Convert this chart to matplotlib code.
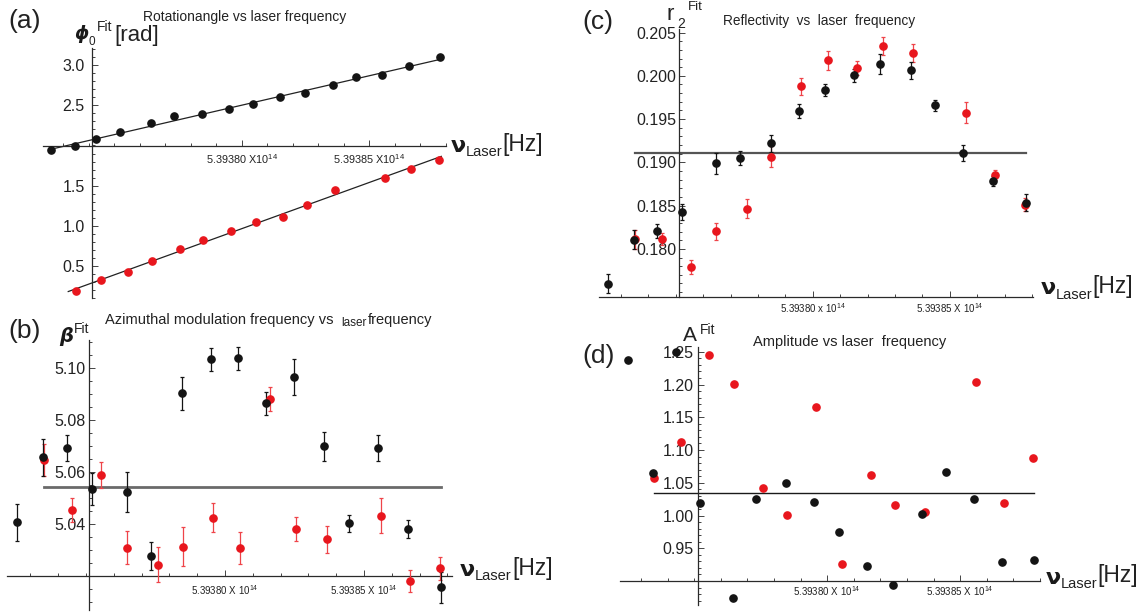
import matplotlib
matplotlib.use('Agg')
import matplotlib.pyplot as plt
from matplotlib.ticker import FixedLocator, MultipleLocator, FixedFormatter, FormatStrFormatter
import numpy as np

plt.rcParams['font.family'] = ['Liberation Sans', 'DejaVu Sans']
plt.rcParams['mathtext.fontset'] = 'custom'
plt.rcParams['mathtext.rm'] = 'Liberation Sans'
plt.rcParams['mathtext.it'] = 'Liberation Sans:italic'
plt.rcParams['mathtext.bf'] = 'Liberation Sans:bold'

W, H = 1148, 614
NU0 = 5.39380e14      # first labelled frequency tick [Hz]

# laser detuning of each measurement from NU0 [GHz]
dnu_black = [-7.49, -6.54, -5.70, -4.77, -3.54, -2.67, -1.54, -0.49,
             0.46, 1.49, 2.47, 3.58, 4.47, 5.50, 6.58, 7.77]
dnu_red = [-6.50, -5.51, -4.45, -3.52, -2.41, -1.51, -0.43, 0.55,
           1.63, 2.55, 3.67, 5.61, 6.64, 7.73]

# (a) rotation angle phi_0 [rad]
phi_black = [1.94, 1.99, 2.075, 2.17, 2.28, 2.37, 2.39, 2.45,
             2.52, 2.60, 2.65, 2.75, 2.85, 2.88, 2.99, 3.10]
phi_red = [0.18, 0.32, 0.42, 0.56, 0.71, 0.82, 0.94, 1.05,
           1.11, 1.26, 1.44, 1.60, 1.71, 1.82]

# (b) azimuthal modulation frequency beta
beta_black = [5.0406, 5.0656, 5.0691, 5.0535, 5.0524, 5.0278, 5.0903, 5.1033,
              5.1037, 5.0864, 5.0967, 5.0699, 5.0403, 5.0694, 5.0381, 5.0156]
beta_black_err = [0.0070, 0.0070, 0.0050, 0.0060, 0.0077, 0.0053, 0.0064, 0.0043,
                  0.0044, 0.0044, 0.0069, 0.0056, 0.0033, 0.0050, 0.0035, 0.0059]
beta_red = [5.0647, 5.0454, 5.0588, 5.0309, 5.0244, 5.0313, 5.0424, 5.0308,
            5.0881, 5.0382, 5.0341, 5.0432, 5.0182, 5.0229]
beta_red_err = [0.0062, 0.0047, 0.0050, 0.0063, 0.0066, 0.0075, 0.0056, 0.0063,
                0.0046, 0.0046, 0.0053, 0.0067, 0.0042, 0.0045]
beta_level = 5.0543

# (c) reflectivity r_2
r2_black = [0.17597, 0.18105, 0.18205, 0.18426, 0.18988, 0.19047, 0.19221, 0.19597,
            0.19833, 0.20004, 0.20136, 0.20062, 0.19659, 0.19105, 0.18783, 0.18535]
r2_black_err = [0.0011, 0.0011, 0.0008, 0.0009, 0.0012, 0.0008, 0.0010, 0.0008,
                0.0007, 0.0007, 0.0012, 0.0010, 0.0006, 0.0009, 0.0006, 0.0010]
r2_red = [0.18112, 0.18112, 0.17795, 0.18202, 0.18461, 0.19066, 0.19880, 0.20182,
          0.20090, 0.20345, 0.20264, 0.19574, 0.18853, 0.18512]
r2_red_err = [0.0011, 0.0007, 0.0008, 0.0010, 0.0011, 0.0012, 0.0010, 0.0011,
              0.0008, 0.0010, 0.0010, 0.0012, 0.0006, 0.0007]
r2_level = 0.1911

# (d) amplitude A
amp_black = [1.2377, 1.0654, 1.2490, 1.0192, 0.8746, 1.0259, 1.0490, 1.0203,
             0.9741, 0.9223, 0.8936, 1.0028, 1.0664, 1.0249, 0.9295, 0.9321]
amp_red = [1.0577, 1.1121, 1.2454, 1.2013, 1.0423, 1.0008, 1.1664, 0.9259,
           1.0623, 1.0167, 1.0054, 1.2038, 1.0197, 1.0879]
amp_level = 1.0343

BLACK = '#141414'
RED = '#e8161d'
RED_BAR = '#ef4449'

fig = plt.figure(figsize=(W / 100, H / 100), dpi=100)


def hz(dnu):
    return NU0 + np.asarray(dnu) * 1e9


def put(x, y, s, size, **kw):
    # x, y in pixels from the top left corner
    fig.text(x / W, 1 - y / H, s, fontsize=size, ha='left', va='center', **kw)


def panel(xc, yc, org, sx, sy, xlim, ylim, yticks, yminor, yfmt, xlabels,
          ypad, xpad, xsize=7):
    # org = pixel position where the two axes cross, sx px per GHz, sy px per y unit
    x0 = org[0] + (xlim[0] - xc) * sx
    x1 = org[0] + (xlim[1] - xc) * sx
    y0 = org[1] + (yc - ylim[0]) * sy
    y1 = org[1] - (ylim[1] - yc) * sy
    ax = fig.add_axes([x0 / W, 1 - y0 / H, (x1 - x0) / W, (y0 - y1) / H])
    ax.set_xlim(hz(xlim[0]), hz(xlim[1]))
    ax.set_ylim(*ylim)
    ax.patch.set_visible(False)
    ax.spines['top'].set_visible(False)
    ax.spines['right'].set_visible(False)
    ax.spines['left'].set_position(('data', hz(xc)))
    ax.spines['bottom'].set_position(('data', yc))
    for s in ('left', 'bottom'):
        ax.spines[s].set_color('#2a2a2a')
        ax.spines[s].set_linewidth(0.9)

    ax.xaxis.set_major_locator(FixedLocator([NU0, NU0 + 5e9]))
    ax.xaxis.set_minor_locator(MultipleLocator(1e9))
    ax.xaxis.set_major_formatter(FixedFormatter(xlabels))
    ax.yaxis.set_major_locator(FixedLocator(yticks))
    ax.yaxis.set_minor_locator(MultipleLocator(yminor))
    ax.yaxis.set_major_formatter(FormatStrFormatter(yfmt))

    ax.tick_params(which='both', direction='in', color='#444444', width=0.7)
    ax.tick_params(which='major', length=4)
    ax.tick_params(which='minor', length=2.5)
    ax.tick_params(axis='x', which='major', labelsize=xsize, pad=xpad, labelcolor='#222222')
    ax.tick_params(axis='y', which='major', labelsize=11.5, pad=ypad, labelcolor='#222222')
    return ax


def points(ax, dnu, y, err, color, ecolor):
    ax.errorbar(hz(dnu), y, yerr=err, fmt='o', ms=5.2, color=color, ecolor=ecolor,
                elinewidth=0.9, capsize=1.3, capthick=0.9, zorder=3)


def unclip(ax):
    for a in ax.lines + ax.collections:
        a.set_clip_on(False)


# ---- (a) rotation angle ----
ax_a = panel(-5.88, 2.0, (91.7, 145.5), 25.5, 80.2, (-7.8, 8.0), (0.1, 3.21),
             [0.5, 1.0, 1.5, 2.5, 3.0], 0.1, '%.1f',
             [r'5.39380 X10$^{14}$', r'5.39385 X10$^{14}$'], ypad=5, xpad=5, xsize=7.8)
for dnu, phi, c, ext in ((dnu_black, phi_black, BLACK, (0.0, 0.1)),
                         (dnu_red, phi_red, RED, (0.3, 0.1))):
    k, b = np.polyfit(dnu, phi, 1)
    xs = np.array([dnu[0] - ext[0], dnu[-1] + ext[1]])
    ax_a.plot(hz(xs), k * xs + b, color='#222222', lw=0.9, zorder=2)
    ax_a.plot(hz(dnu), phi, 'o', ms=5.2, color=c, zorder=3)
unclip(ax_a)

# ---- (b) azimuthal modulation frequency ----
ax_b = panel(-4.88, 5.02, (89.3, 576.0), 27.8, 2600, (-7.85, 8.15), (5.0069, 5.1108),
             [5.04, 5.06, 5.08, 5.10], 0.005, '%.2f',
             [r'5.39380 X 10$^{14}$', r'5.39385 X 10$^{14}$'], ypad=3, xpad=5)
ax_b.plot(hz([dnu_red[0], dnu_black[-1]]), [beta_level] * 2, color='#6a6a6a', lw=2.0, zorder=1)
points(ax_b, dnu_red, beta_red, beta_red_err, RED, RED_BAR)
points(ax_b, dnu_black, beta_black, beta_black_err, BLACK, BLACK)
unclip(ax_b)

# ---- (c) reflectivity ----
ax_c = panel(-4.87, 0.1744, (679.3, 297.3), 27.4, 8652, (-7.8, 8.05), (0.1744, 0.2054),
             [0.180, 0.185, 0.190, 0.195, 0.200, 0.205], 0.001, '%.3f',
             [r'5.39380 x 10$^{14}$', r'5.39385 X 10$^{14}$'], ypad=2, xpad=2.5)
ax_c.plot(hz([dnu_red[0], dnu_black[-1]]), [r2_level] * 2, color='#555555', lw=1.6, zorder=1)
points(ax_c, dnu_red, r2_red, r2_red_err, RED, RED_BAR)
points(ax_c, dnu_black, r2_black, r2_black_err, BLACK, BLACK)
unclip(ax_c)

# ---- (d) amplitude ----
ax_d = panel(-4.87, 0.90, (697.7, 581.0), 26.6, 655, (-7.8, 8.0), (0.8634, 1.2577),
             [0.95, 1.00, 1.05, 1.10, 1.15, 1.20, 1.25], 0.01, '%.2f',
             [r'5.39380 X 10$^{14}$', r'5.39385 X 10$^{14}$'], ypad=3, xpad=2.5)
ax_d.plot(hz([dnu_red[0], dnu_black[-1]]), [amp_level] * 2, color='#1a1a1a', lw=1.0, zorder=1)
ax_d.plot(hz(dnu_red), amp_red, 'o', ms=5.2, color=RED, zorder=3)
ax_d.plot(hz(dnu_black), amp_black, 'o', ms=5.2, color=BLACK, zorder=3)
unclip(ax_d)

# ---- panel letters, titles and axis labels ----
greek = dict(family=['DejaVu Sans'], fontweight='bold', color='#1a1a1a')
txt = dict(color='#222222')

put(8, 21, '(a)', 19, **txt)
put(8, 331, '(b)', 19, **txt)
put(582, 22.5, '(c)', 19, **txt)
put(582, 356, '(d)', 19, **txt)

put(142.6, 17.5, 'Rotationangle vs laser frequency', 10, **txt)
put(104.7, 320, 'Azimuthal modulation frequency vs', 10.5, **txt)
put(341, 323, 'laser', 8.5, **txt)
put(368, 320, 'frequency', 10.5, **txt)
put(723, 20.7, 'Reflectivity  vs  laser  frequency', 9.8, **txt)
put(753, 342, 'Amplitude vs laser  frequency', 10.5, **txt)

# y labels
put(74, 34.2, 'ϕ', 13, fontstyle='italic', **greek)
put(88.5, 41.7, '0', 8.5, **txt)
put(96.8, 26.7, 'Fit', 10, **txt)
put(114.8, 35, '[rad]', 16, **txt)

put(59.6, 337, 'β', 14, fontstyle='italic', **greek)
put(74, 329, 'Fit', 10, **txt)

put(667, 14.5, 'r', 16, **txt)
put(677.5, 24, '2', 10, **txt)
put(688, 7, 'Fit', 9.5, **txt)

put(683, 335.5, 'A', 15, **txt)
put(700, 330, 'Fit', 10, **txt)

# x labels
for nx, ny, off in ((451, 146, 0), (460, 570, 1), (1040.6, 288.3, 0.5), (1046, 577.5, 0.5)):
    put(nx, ny, 'ν', 16, **greek)
    put(nx + 15, ny + 6.5, 'Laser', 10.5, **txt)
    put(nx + 51 + off, ny - 2, '[Hz]', 16.5, **txt)

fig.savefig('out.png', dpi=100)
